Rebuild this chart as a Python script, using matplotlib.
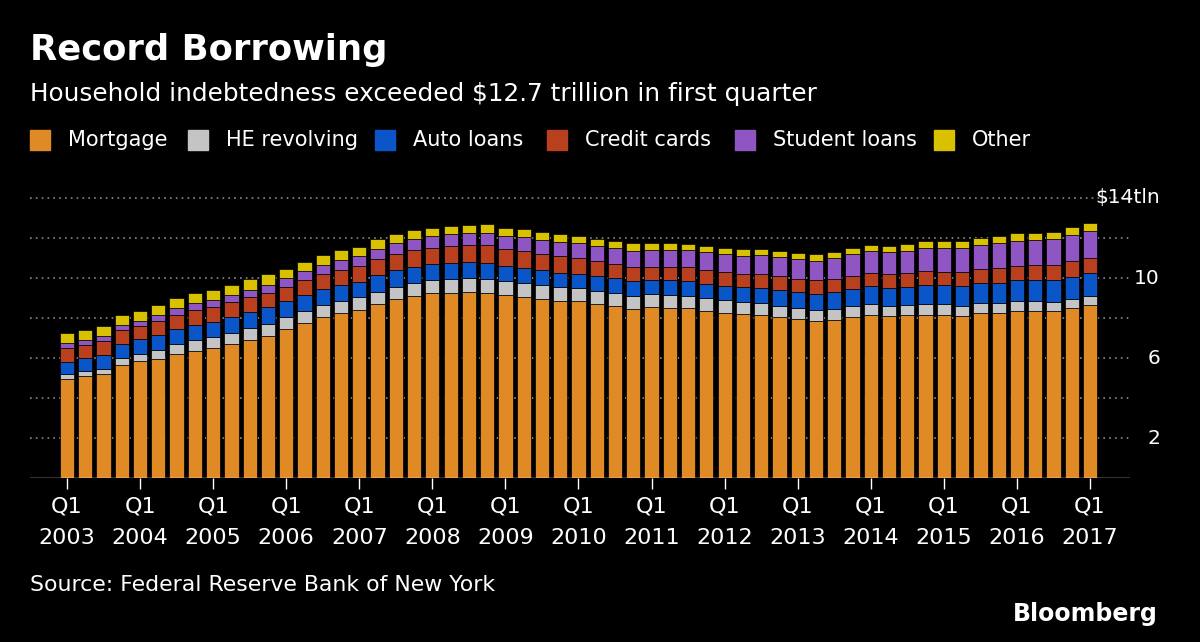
import matplotlib
matplotlib.use("Agg")
import matplotlib.pyplot as plt
import matplotlib.transforms as mtransforms
from matplotlib.patches import Rectangle
import numpy as np

years = list(range(2003, 2018))
mortgage = [4.94,5.08,5.18,5.66,5.84,5.97,6.21,6.36,6.51,6.70,6.91,7.10,7.44,7.76,8.05,8.23,8.42,8.71,8.93,9.10,
            9.23,9.27,9.29,9.26,9.14,9.06,8.94,8.84,8.83,8.70,8.61,8.45,8.54,8.52,8.48,8.36,8.27,8.19,8.15,8.03,
            7.93,7.84,7.90,8.05,8.17,8.10,8.13,8.17,8.17,8.12,8.26,8.25,8.37,8.36,8.35,8.48,8.63]
he_rev = [0.24,0.26,0.29,0.33,0.37,0.43,0.47,0.53,0.54,0.57,0.58,0.60,0.60,0.60,0.60,0.60,0.61,0.61,0.63,0.65,
          0.66,0.68,0.69,0.71,0.71,0.71,0.70,0.70,0.68,0.67,0.66,0.67,0.64,0.64,0.62,0.62,0.61,0.59,0.58,0.58,
          0.57,0.56,0.55,0.53,0.53,0.52,0.51,0.51,0.51,0.50,0.49,0.49,0.48,0.48,0.47,0.47,0.46]
auto = [0.64,0.64,0.69,0.70,0.72,0.73,0.77,0.77,0.77,0.80,0.82,0.83,0.79,0.81,0.82,0.82,0.79,0.81,0.82,0.81,
        0.79,0.79,0.81,0.79,0.76,0.74,0.74,0.72,0.71,0.72,0.72,0.71,0.70,0.72,0.73,0.73,0.73,0.75,0.77,0.78,
        0.79,0.81,0.83,0.85,0.88,0.90,0.93,0.95,0.96,0.98,1.00,1.03,1.05,1.07,1.09,1.11,1.17]
credit = [0.69,0.69,0.69,0.70,0.68,0.70,0.70,0.72,0.71,0.71,0.73,0.74,0.72,0.74,0.75,0.77,0.77,0.80,0.82,0.84,
          0.84,0.85,0.86,0.87,0.84,0.84,0.83,0.82,0.76,0.74,0.73,0.73,0.69,0.69,0.70,0.70,0.68,0.67,0.68,0.69,
          0.67,0.67,0.67,0.68,0.66,0.66,0.66,0.70,0.68,0.70,0.71,0.73,0.71,0.73,0.75,0.78,0.76]
student = [0.24,0.24,0.25,0.25,0.26,0.32,0.33,0.35,0.36,0.37,0.38,0.39,0.43,0.43,0.45,0.48,0.51,0.52,0.54,0.55,
           0.58,0.59,0.61,0.64,0.66,0.68,0.69,0.72,0.76,0.76,0.78,0.81,0.84,0.84,0.86,0.87,0.90,0.91,0.96,0.97,
           0.99,0.99,1.03,1.08,1.11,1.12,1.13,1.16,1.19,1.19,1.20,1.23,1.26,1.26,1.28,1.31,1.34]
other = [0.48,0.49,0.49,0.51,0.50,0.52,0.50,0.51,0.50,0.51,0.52,0.53,0.46,0.48,0.49,0.49,0.47,0.48,0.46,0.47,
         0.39,0.40,0.41,0.42,0.40,0.40,0.38,0.38,0.36,0.35,0.34,0.36,0.33,0.33,0.33,0.33,0.32,0.32,0.32,0.32,
         0.31,0.31,0.31,0.32,0.31,0.31,0.32,0.34,0.33,0.34,0.35,0.37,0.36,0.37,0.38,0.39,0.39]

names = ["Mortgage", "HE revolving", "Auto loans", "Credit cards", "Student loans", "Other"]
series = [mortgage, he_rev, auto, credit, student, other]
colors = ["#e08a25", "#c4c4c4", "#0a56c8", "#b8401f", "#8f55c2", "#d9c100"]

plt.rcParams['font.family'] = ['DejaVu Sans']
W, H = 1200, 642
fig = plt.figure(figsize=(12, 6.42), dpi=100, facecolor="black")

def fx(px): return px / W
def fy(py): return 1 - py / H

ax_l, ax_r, ax_b, ax_t = 30, 1130, 478, 190
ax = fig.add_axes([fx(ax_l), fy(ax_b), fx(ax_r - ax_l), (ax_b - ax_t) / H], facecolor="black")
n = len(mortgage)
x = np.arange(n)
sp = (1090 - 67) / 56
ax.set_xlim((ax_l - 67) / sp, (ax_r - 67) / sp)
ax.set_ylim(0, 14 * (ax_b - ax_t) / 280)

bottom = np.zeros(n)
for s, c in zip(series, colors):
    ax.bar(x, s, bottom=bottom, width=0.78, color=c, edgecolor="black", linewidth=0.5, zorder=3)
    bottom += np.array(s)

for v in [2, 4, 6, 8, 10, 12, 14]:
    ax.axhline(v, color="#8a8a8a", linestyle=(0, (1, 2.5)), linewidth=1.2, zorder=1)

trans = mtransforms.blended_transform_factory(fig.transFigure, ax.transData)
for v, lab in [(2, "2"), (6, "6"), (10, "10"), (14, "$14tln")]:
    ax.text(fx(1160), v, lab, transform=trans, ha="right", va="center",
            color="white", fontsize=14.5)

for s in ax.spines.values():
    s.set_visible(False)
ax.set_yticks([])
qi = [4 * (y - 2003) for y in years]
ax.set_xticks(qi)
ax.set_xticklabels([f"Q1\n{y}" for y in years], color="white", fontsize=16, linespacing=1.75)
ax.tick_params(axis="x", length=8, color="white", width=1, pad=5)
ax.axhline(0, color="white", linewidth=1, zorder=4)

fig.text(fx(30), fy(50), "Record Borrowing", color="white", fontsize=25.5, fontweight="bold", va="center")
fig.text(fx(30), fy(94), "Household indebtedness exceeded $12.7 trillion in first quarter",
         color="white", fontsize=17.8, va="center")

lx = [30, 188, 375, 547, 735, 934]
for px, nm, c in zip(lx, names, colors):
    fig.patches.append(Rectangle((fx(px), fy(150)), fx(20), 20 / H, color=c, transform=fig.transFigure))
    fig.text(fx(px + 38), fy(140), nm, color="white", fontsize=15, va="center")

fig.text(fx(30), fy(585), "Source: Federal Reserve Bank of New York", color="white", fontsize=15.8, va="center")
fig.text(fx(1158), fy(614), "Bloomberg", color="white", fontsize=17, fontweight="bold", va="center", ha="right")

fig.savefig("out.png", dpi=100, facecolor="black")
